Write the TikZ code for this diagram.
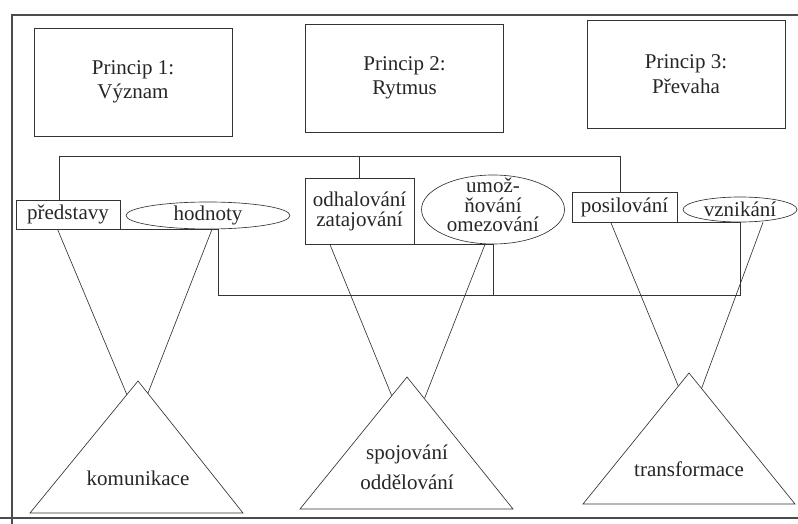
\documentclass[tikz,border=0pt]{standalone}
\usepackage{fontspec}
\setmainfont{Liberation Serif}
\usetikzlibrary{shapes.geometric,calc}
\begin{document}
\begin{tikzpicture}[x=1pt,y=-1pt,
  ink/.style={draw=black!80,line width=0.65pt},
  txt/.style={font=\fontsize{21}{24.5}\selectfont,text=black!85,align=center,inner sep=0pt},
  bigbox/.style={ink,txt,rectangle,minimum width=198pt,minimum height=108pt},
  smallbox/.style={ink,txt,rectangle},
  oval/.style={ink,ellipse,inner sep=0pt},
  tri/.style={ink,fill=white,line join=miter},
  frame/.style={draw=black!70,line width=2.4pt},
]
\useasboundingbox (0,0) rectangle (798,524);
\clip (0,0) rectangle (798,524);

% frame
\draw[frame] (12,540) -- (12,15) -- (820,15);
\draw[frame] (0,518) -- (820,518);

% principles
\node[bigbox] (p1) at (133,82) {Princip 1:\\Význam};
\node[bigbox] (p2) at (404.5,78) {Princip 2:\\Rytmus};
\node[bigbox] (p3) at (686,74) {Princip 3:\\Převaha};

% pair 1
\node[smallbox,minimum width=104pt,minimum height=29pt] (r1) at (68,214.5) {představy};
\node[oval,minimum width=164pt,minimum height=27pt] (e1) at (208,215.5) {};
\node[txt] (e1t) at (e1) {hodnoty};

% pair 2
\node[smallbox,minimum width=109pt,minimum height=66pt,font=\fontsize{21}{20}\selectfont] (r2) at (359.5,211) {odhalování\\zatajování};
\node[oval,minimum width=143pt,minimum height=69pt] (e2) at (493,209.5) {};
\node[txt,font=\fontsize{21}{19.5}\selectfont] (e2t) at (493,205) {umož-\\ňování\\omezování};

% pair 3
\node[smallbox,minimum width=105pt,minimum height=30pt] (r3) at (624.5,207) {posilování};
\node[oval,minimum width=114pt,minimum height=25pt] (e3) at (740,209.5) {};
\node[txt] (e3t) at (e3) {vznikání};

% top bracket
\coordinate (ytop) at (0,156);
\coordinate (a1) at ($(r1.north west)!0.42!(r1.north east)$);
\coordinate (a3) at ($(r3.north west)!0.46!(r3.north east)$);
\draw[ink] (a1) -- (a1 |- ytop) -- (a3 |- ytop) -- (a3);
\draw[ink] (r2.north) -- (r2.north |- ytop);

% bottom bracket
\coordinate (ybot) at (0,295);
\coordinate (b1) at ($(e1.south)+(10,0)$);
\coordinate (b3) at (e3.south);
\draw[ink] (r1.south east) -- (b1) -- (b1 |- ybot) -- (b3 |- ybot) -- (b3) -- (r3.south east);
\draw[ink] (r2.south east) -- (e2.south) -- (e2.south |- ybot);

% funnels
\coordinate (v1) at (137.5,420);
\coordinate (v2) at (409,438);
\coordinate (v3) at (691,417);
\draw[ink] ($(r1.south west)!0.40!(r1.south east)$) -- (v1);
\draw[ink] ($(e1.south)+(4,0)$) -- (v1);
\draw[ink] ($(r2.south west)!0.23!(r2.south east)$) -- (v2);
\draw[ink] ($(e2.south)+(-8,0)$) -- (v2);
\draw[ink] ($(r3.south west)!0.37!(r3.south east)$) -- (v3);
\draw[ink] ($(e3.south)+(23,0)$) -- (v3);

% triangles
\coordinate (t1a) at (138,381); \coordinate (t1l) at (30,513); \coordinate (t1r) at (243,513);
\coordinate (t2a) at (407,377); \coordinate (t2l) at (300,509); \coordinate (t2r) at (513,509);
\coordinate (t3a) at (689,373); \coordinate (t3l) at (583,504); \coordinate (t3r) at (795,504);
\draw[tri] (t1a) -- (t1l) -- (t1r) -- cycle;
\draw[tri] (t2a) -- (t2l) -- (t2r) -- cycle;
\draw[tri] (t3a) -- (t3l) -- (t3r) -- cycle;
\node[txt] (k1) at (138,478) {komunikace};
\node[txt,font=\fontsize{21}{30}\selectfont] (k2) at (407,467) {spojování\\oddělování};
\node[txt] (k3) at (689,469) {transformace};
\end{tikzpicture}
\end{document}
